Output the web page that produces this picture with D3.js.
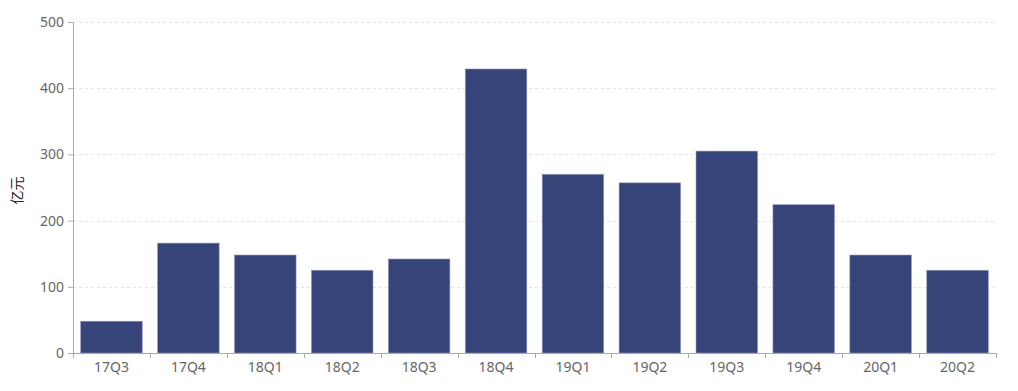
<!DOCTYPE html>
<html>
<head>
<meta charset="utf-8">
<script src="https://cdn.jsdelivr.net/npm/d3@7"></script>
<style>
  body { margin: 0; background: #fff; }
  svg text { font-family: "Microsoft YaHei", "Noto Sans", "Noto Sans CJK SC", sans-serif; }
</style>
</head>
<body>
<svg id="chart" width="1018" height="391"></svg>
<script>
var quarters = ['17Q3', '17Q4', '18Q1', '18Q2', '18Q3', '18Q4', '19Q1', '19Q2', '19Q3', '19Q4', '20Q1', '20Q2'];
var amounts = [48, 166, 148, 125, 142, 429, 270, 257, 305, 224, 148, 125];
var yTicks = [0, 100, 200, 300, 400, 500];
var yLabel = '亿元';

(function () {
  'use strict';

  var margin = {top: 22, right: 22, bottom: 38, left: 73};
  var svg = d3.select('#chart');
  var width = 1018 - margin.left - margin.right;
  var height = 391 - margin.top - margin.bottom;

  var data = quarters.map(function (q, i) { return {q: q, v: amounts[i]}; });

  var x = d3.scaleBand().domain(quarters).range([0, width]).paddingInner(0.2).paddingOuter(0.1);
  var y = d3.scaleLinear().domain([0, 500]).range([height, 0]);

  var g = svg.append('g').attr('transform', 'translate(' + margin.left + ',' + margin.top + ')');

  // grid lines
  g.append('g').selectAll('line')
    .data(yTicks.filter(function (d) { return d > 0; }))
    .enter().append('line')
    .attr('x1', 0).attr('x2', width)
    .attr('y1', function (d) { return Math.round(y(d)) + 0.5; })
    .attr('y2', function (d) { return Math.round(y(d)) + 0.5; })
    .attr('stroke', '#e3e3e3')
    .attr('stroke-dasharray', '3,3');

  // bars
  g.append('g').selectAll('rect')
    .data(data)
    .enter().append('rect')
    .attr('x', function (d) { return x(d.q); })
    .attr('y', function (d) { return y(d.v); })
    .attr('width', x.bandwidth())
    .attr('height', function (d) { return height - y(d.v); })
    .attr('fill', '#37447a')
    .attr('stroke', '#8f97bd')
    .attr('stroke-width', 0.6);

  // y axis
  var yAxis = g.append('g')
    .call(d3.axisLeft(y).tickValues(yTicks).tickSize(5).tickPadding(4));
  // x axis
  var xAxis = g.append('g')
    .attr('transform', 'translate(0,' + height + ')')
    .call(d3.axisBottom(x).tickSize(0).tickPadding(9));
  // boundary ticks between categories
  g.append('g').selectAll('line')
    .data(d3.range(quarters.length + 1))
    .enter().append('line')
    .attr('x1', function (i) { return Math.round(i * width / quarters.length) + 0.5; })
    .attr('x2', function (i) { return Math.round(i * width / quarters.length) + 0.5; })
    .attr('y1', height).attr('y2', height + 5)
    .attr('stroke', '#aaa');

  [yAxis, xAxis].forEach(function (a) {
    a.select('.domain').attr('stroke', '#aaa');
    a.selectAll('.tick line').attr('stroke', '#aaa');
    a.selectAll('.tick text').attr('fill', '#666').style('font-size', '14px');
  });

  svg.append('text')
    .attr('transform', 'translate(22,' + (margin.top + height / 2 + 3) + ') rotate(-90)')
    .attr('text-anchor', 'middle')
    .attr('fill', '#222')
    .style('font-size', '14px')
    .text(yLabel);
})();
</script>
</body>
</html>
